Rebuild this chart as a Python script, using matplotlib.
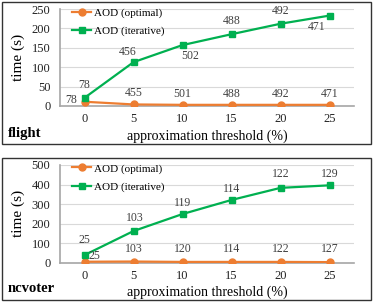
import numpy as np
import matplotlib
matplotlib.use('Agg')
import matplotlib.pyplot as plt
from matplotlib.patches import Rectangle

plt.rcParams['font.family'] = ['Liberation Serif', 'DejaVu Serif']

thresholds = ['0', '5', '10', '15', '20', '25']

# flight
flight_opt = [11, 4, 3, 3, 3, 3]
flight_iter = [21, 113, 157, 185, 212, 233]
flight_opt_lbl = ['78', '455', '501', '488', '492', '471']
flight_iter_lbl = ['78', '456', '502', '488', '492', '471']

# ncvoter
ncv_opt = [5, 6, 4, 4, 4, 3]
ncv_iter = [39, 162, 249, 321, 383, 396]
ncv_opt_lbl = ['25', '103', '120', '114', '122', '127']
ncv_iter_lbl = ['25', '103', '119', '114', '122', '129']

ORANGE = '#ED7D31'
GREEN = '#00B050'

W, H = 374, 303
fig = plt.figure(figsize=(W / 100, H / 100), dpi=100)


def panel(rect, opt, itr, opt_lbl, itr_lbl, opt_off, itr_off, ymax, ystep):
    ax = fig.add_axes(rect)
    x = np.arange(len(thresholds))
    ax.plot(x, opt, color=ORANGE, lw=1.6, marker='o', ms=5, label='AOD (optimal)', zorder=3)
    ax.plot(x, itr, color=GREEN, lw=1.6, marker='s', ms=5, label='AOD (iterative)', zorder=4)
    for i in range(len(x)):
        ax.annotate(opt_lbl[i], (x[i], opt[i]), xytext=opt_off[i], textcoords='offset pixels',
                    ha='center', va='center', fontsize=8.5, color='#404040', zorder=5)
        ax.annotate(itr_lbl[i], (x[i], itr[i]), xytext=itr_off[i], textcoords='offset pixels',
                    ha='center', va='center', fontsize=8.5, color='#404040', zorder=5)
    ax.set_xlim(-0.5, len(x) - 0.5)
    ax.set_ylim(0, ymax)
    ax.set_yticks(np.arange(0, ymax + 1, ystep))
    ax.set_xticks(x)
    ax.set_xticklabels(thresholds)
    ax.tick_params(length=0, labelsize=9, colors='#222222')
    ax.tick_params(axis='y', pad=7)
    ax.tick_params(axis='x', pad=5)
    ax.grid(axis='y', color='#d9d9d9', lw=0.8)
    ax.set_axisbelow(True)
    for s in ['top', 'right']:
        ax.spines[s].set_visible(False)
    for s in ['left', 'bottom']:
        ax.spines[s].set_color('#a6a6a6')
        ax.spines[s].set_linewidth(1.2)
    ax.set_xlabel('approximation threshold (%)', fontsize=10, labelpad=3)
    ax.set_ylabel('time (s)', fontsize=11, labelpad=5)
    ax.legend(loc='upper left', bbox_to_anchor=(0.026, 1.06), frameon=False, fontsize=8,
              handlelength=1.7, handletextpad=0.3, labelspacing=0.75, borderaxespad=0)
    return ax


panel([60 / W, 1 - 106 / H, 294 / W, 97 / H], flight_opt, flight_iter, flight_opt_lbl, flight_iter_lbl,
      [(-13, 2), (0, 11), (0, 11), (0, 11), (0, 11), (0, 11)],
      [(0, 13), (-6, 10), (8, -11), (0, 13), (0, 13), (-13, -11)],
      250, 50)
panel([60 / W, 1 - 262.7 / H, 294 / W, 97.7 / H], ncv_opt, ncv_iter, ncv_opt_lbl, ncv_iter_lbl,
      [(10, 6), (0, 13), (0, 13), (0, 13), (0, 13), (0, 13)],
      [(0, 15), (1, 13), (0, 11), (0, 11), (0, 14), (0, 11)],
      500, 100)

# panel frames and dataset names
for top, bot, name in [(2, 144, 'flight'), (157.5, 300, 'ncvoter')]:
    fig.patches.append(Rectangle((1.5 / W, 1 - bot / H), 369 / W, (bot - top) / H,
                                 transform=fig.transFigure, fill=False, ec='#333333', lw=1.0))
    fig.text(8 / W, 1 - (bot - 11) / H, name, fontsize=10.5, fontweight='bold', ha='left', va='center')

fig.savefig('out.png', dpi=100)
